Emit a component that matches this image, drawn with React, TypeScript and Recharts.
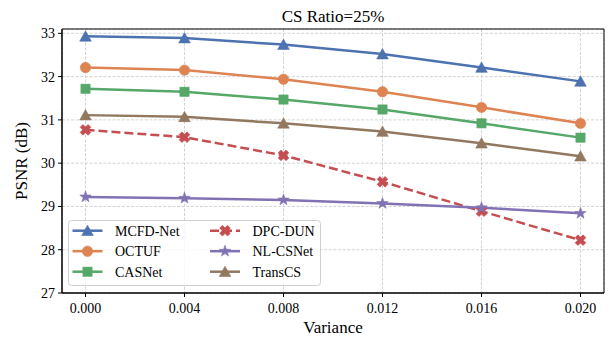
import { LineChart, Line, XAxis, YAxis, CartesianGrid, ReferenceArea } from 'recharts';

// ─── Data ────────────────────────────────────────────────────────────────────
const variance = [0, 0.004, 0.008, 0.012, 0.016, 0.02];
const mcfdNet = [32.93, 32.89, 32.74, 32.52, 32.21, 31.89];
const octuf = [32.21, 32.15, 31.94, 31.65, 31.29, 30.92];
const casNet = [31.72, 31.65, 31.47, 31.24, 30.92, 30.59];
const dpcDun = [30.77, 30.6, 30.18, 29.57, 28.89, 28.22];
const nlCsNet = [29.22, 29.19, 29.15, 29.07, 28.97, 28.84];
const transCs = [31.11, 31.07, 30.92, 30.73, 30.46, 30.16];

const xTicks = [0, 0.004, 0.008, 0.012, 0.016, 0.02];
const yTicks = [27, 28, 29, 30, 31, 32, 33];

type Shape = 'triangle' | 'circle' | 'square' | 'x' | 'star';

const SERIES: { key: string; name: string; values: number[]; color: string; shape: Shape; dashed?: boolean }[] = [
  { key: 'mcfd', name: 'MCFD-Net', values: mcfdNet, color: '#4C72B0', shape: 'triangle' },
  { key: 'octuf', name: 'OCTUF', values: octuf, color: '#DD8452', shape: 'circle' },
  { key: 'casnet', name: 'CASNet', values: casNet, color: '#55A868', shape: 'square' },
  { key: 'dpcdun', name: 'DPC-DUN', values: dpcDun, color: '#C44E52', shape: 'x', dashed: true },
  { key: 'nlcsnet', name: 'NL-CSNet', values: nlCsNet, color: '#8172B3', shape: 'star' },
  { key: 'transcs', name: 'TransCS', values: transCs, color: '#937860', shape: 'triangle' },
];

const data = variance.map((v, i) => {
  const row: Record<string, number> = { variance: v };
  SERIES.forEach((s) => (row[s.key] = s.values[i]));
  return row;
});

const FONT = '"Liberation Serif", "DejaVu Serif", serif';
const textStyle = { fontFamily: FONT };

// ─── Markers ─────────────────────────────────────────────────────────────────
function Marker({ shape, cx, cy, color }: { shape: Shape; cx: number; cy: number; color: string }) {
  if (cx == null || cy == null) return null;
  switch (shape) {
    case 'triangle':
      return <polygon points={`${cx},${cy - 5.5} ${cx - 5.8},${cy + 4.8} ${cx + 5.8},${cy + 4.8}`} fill={color} stroke={color} strokeWidth={0.6} />;
    case 'circle':
      return <circle cx={cx} cy={cy} r={5.2} fill={color} stroke={color} strokeWidth={0.6} />;
    case 'square':
      return <rect x={cx - 4.6} y={cy - 4.6} width={9.2} height={9.2} fill={color} stroke={color} strokeWidth={0.6} />;
    case 'x': {
      // filled X: plus shape rotated 45deg
      const a = 5.6;
      const t = 2.0;
      const pts = [
        [-t, -a], [t, -a], [t, -t], [a, -t], [a, t], [t, t], [t, a], [-t, a], [-t, t], [-a, t], [-a, -t], [-t, -t],
      ]
        .map(([x, y]) => {
          const c = Math.SQRT1_2;
          return `${cx + (x - y) * c},${cy + (x + y) * c}`;
        })
        .join(' ');
      return <polygon points={pts} fill={color} stroke={color} strokeWidth={0.6} />;
    }
    case 'star': {
      const pts: string[] = [];
      for (let k = 0; k < 10; k++) {
        const r = k % 2 === 0 ? 6 : 2.4;
        const ang = -Math.PI / 2 + (k * Math.PI) / 5;
        pts.push(`${cx + r * Math.cos(ang)},${cy + r * Math.sin(ang)}`);
      }
      return <polygon points={pts.join(' ')} fill={color} stroke={color} strokeWidth={0.6} />;
    }
  }
  return null;
}

// ─── Legend ──────────────────────────────────────────────────────────────────
function LegendBox() {
  const left = 68;
  const top = 220;
  const rows = 3;
  return (
    <g>
      <rect x={left + 0.5} y={top + 0.5} width={252} height={65} rx={3} fill="rgba(255,255,255,0.8)" stroke="#d0d0d0" />
      {SERIES.map((s, i) => {
        const col = Math.floor(i / rows);
        const row = i % rows;
        const x0 = left + 4.5 + col * 137.5;
        const cy = top + 10.7 + row * 20.5;
        return (
          <g key={s.key}>
            <line x1={x0} x2={x0 + 30} y1={cy} y2={cy} stroke={s.color} strokeWidth={2.5} strokeDasharray={s.dashed ? '9 4' : undefined} />
            <Marker shape={s.shape} cx={x0 + 15} cy={cy} color={s.color} />
            <text x={x0 + 42.5} y={cy + 5} fontSize={14} style={textStyle} fill="#000">
              {s.name}
            </text>
          </g>
        );
      })}
    </g>
  );
}

export default function App() {
  return (
    <div style={{ position: 'absolute', left: 0, top: 0, width: 608, height: 337, background: '#fff' }}>
      <LineChart width={608} height={337} data={data} margin={{ top: 29, right: 4, bottom: 14, left: 0 }}>
        <CartesianGrid stroke="#c8c8c8" strokeDasharray="3 1.6" strokeWidth={0.8} />
        <XAxis
          dataKey="variance"
          type="number"
          domain={[-0.00095, 0.02095]}
          allowDataOverflow
          ticks={xTicks}
          tickFormatter={(v: number) => v.toFixed(3)}
          tick={{ fill: '#000', fontSize: 14, style: textStyle }}
          tickLine={{ stroke: '#000' }}
          axisLine={{ stroke: '#000' }}
          tickSize={4}
          tickMargin={6}
          height={30}
        />
        <YAxis
          type="number"
          domain={[27, 33.1]}
          allowDataOverflow
          ticks={yTicks}
          tick={{ fill: '#000', fontSize: 14, style: textStyle }}
          tickLine={{ stroke: '#000' }}
          axisLine={{ stroke: '#000' }}
          tickSize={4}
          tickMargin={3}
          width={62}
        />
        <ReferenceArea x1={-0.00095} x2={0.02095} y1={27} y2={33.1} fill="none" fillOpacity={0} stroke="#000" strokeWidth={1} />
        {SERIES.map((s) => (
          <Line
            key={s.key}
            dataKey={s.key}
            name={s.name}
            stroke={s.color}
            strokeWidth={2.5}
            strokeDasharray={s.dashed ? '9 4' : undefined}
            dot={(p: any) => <Marker key={`${s.key}-${p.index}`} shape={s.shape} cx={p.cx} cy={p.cy} color={s.color} />}
            activeDot={false}
            isAnimationActive={false}
          />
        ))}
      </LineChart>
      <svg width={608} height={337} style={{ position: 'absolute', left: 0, top: 0, pointerEvents: 'none' }}>
        <text x={333} y={22} textAnchor="middle" fontSize={17} style={textStyle} fill="#000">
          CS Ratio=25%
        </text>
        <text x={333} y={333} textAnchor="middle" fontSize={17} style={textStyle} fill="#000">
          Variance
        </text>
        <text x={27} y={161} textAnchor="middle" fontSize={17} style={textStyle} fill="#000" transform="rotate(-90 27 161)">
          PSNR (dB)
        </text>
        <LegendBox />
      </svg>
    </div>
  );
}
